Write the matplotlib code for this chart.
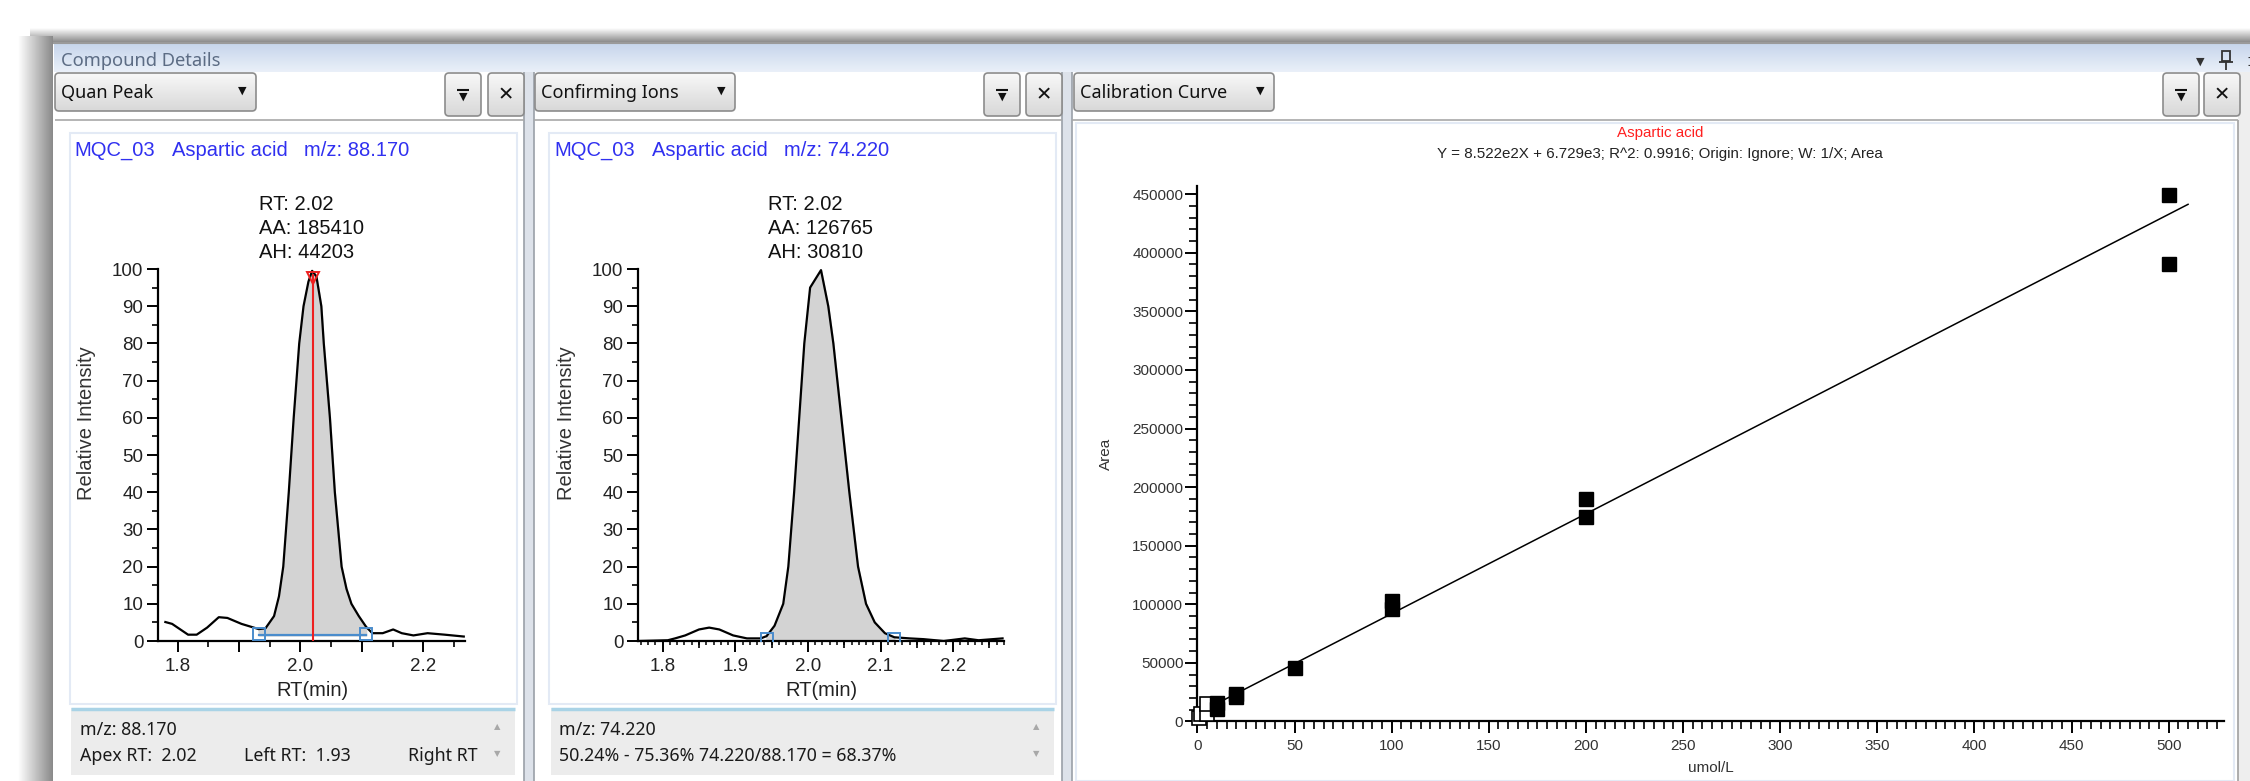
import numpy as np
import matplotlib
matplotlib.use("Agg")
import matplotlib.pyplot as plt
from matplotlib.patches import Rectangle, FancyBboxPatch
from matplotlib.colors import LinearSegmentedColormap
from matplotlib.ticker import MultipleLocator, FuncFormatter

plt.rcParams["font.family"] = ["Liberation Sans", "DejaVu Sans"]
UI = ["Noto Sans", "DejaVu Sans"]
W, H = 2250, 781

# ---------- data ----------
rt_quan = [1.780, 1.791, 1.817, 1.831, 1.848, 1.867, 1.881, 1.904, 1.932, 1.943, 1.957, 1.965, 1.972,
           1.981, 1.989, 1.998, 2.005, 2.013, 2.019, 2.026, 2.034, 2.038, 2.048, 2.056, 2.067, 2.075,
           2.083, 2.095, 2.107, 2.117, 2.134, 2.151, 2.165, 2.184, 2.207, 2.235, 2.266]
int_quan = [5.1, 4.6, 1.7, 1.7, 3.6, 6.4, 6.2, 4.6, 3.2, 3.4, 6.7, 12.0, 20.0, 40.0, 60.0, 80.0, 90.0,
            96.6, 99.5, 98.0, 90.0, 80.0, 60.0, 40.0, 20.0, 14.0, 10.0, 6.7, 3.8, 2.1, 2.1, 3.1, 2.1,
            1.5, 2.1, 1.7, 1.2]
rt_conf = [1.767, 1.807, 1.817, 1.831, 1.850, 1.864, 1.878, 1.897, 1.916, 1.935, 1.943, 1.954, 1.966,
           1.973, 1.981, 1.988, 1.995, 2.003, 2.018, 2.028, 2.035, 2.046, 2.057, 2.069, 2.080, 2.092,
           2.106, 2.119, 2.140, 2.159, 2.187, 2.216, 2.235, 2.268]
int_conf = [0.0, 0.2, 0.7, 1.5, 3.1, 3.6, 3.1, 1.5, 0.7, 0.7, 1.3, 4.1, 10.0, 20.0, 40.0, 60.0, 80.0,
            95.0, 99.7, 90.0, 80.0, 60.0, 40.0, 20.0, 10.0, 5.0, 2.1, 1.0, 0.7, 0.5, 0.0, 0.7, 0.2, 0.7]
quan_left, quan_right, quan_base, quan_apex = 1.932, 2.107, 1.5, 2.02
conf_left, conf_right = 1.943, 2.119

conc_used = [10, 10, 20, 20, 50, 100, 100, 200, 200, 500, 500]
area_used = [15700, 11000, 23700, 20800, 45300, 103000, 96100, 189600, 174500, 449000, 390000]
conc_excl = [1, 2, 5, 5]
area_excl = [3000, 6000, 6000, 15000]
slope, intercept = 852.2, 6729.0
fit_range = [0, 510]

# ---------- figure + pixel-space background ----------
fig = plt.figure(figsize=(22.5, 7.81), dpi=100)
bg = fig.add_axes([0, 0, 1, 1]); bg.axis("off")

def grad(x0, x1, y0, y1, c0, c1, horiz=False, clip=None, z=1):
    cm = LinearSegmentedColormap.from_list("g", [c0, c1])
    arr = np.linspace(0, 1, 64)[None, :] if horiz else np.linspace(0, 1, 64)[:, None]
    im = bg.imshow(arr, extent=(x0, x1, y1, y0), cmap=cm, aspect="auto", zorder=z, origin="upper")
    if clip is not None: im.set_clip_path(clip)
    return im

def rect(x0, y0, x1, y1, fc, ec="none", lw=1, z=1):
    bg.add_patch(Rectangle((x0, y0), x1 - x0, y1 - y0, fc=fc, ec=ec, lw=lw, zorder=z))

def hline(x0, x1, y, c, lw=1, z=3): bg.plot([x0, x1], [y, y], color=c, lw=lw, zorder=z, solid_capstyle="butt")
def vline(x, y0, y1, c, lw=1, z=3): bg.plot([x, x], [y0, y1], color=c, lw=lw, zorder=z, solid_capstyle="butt")

# window shadow + frame
grad(30, W, 28, 42, "#ffffff", "#8c8c8c", z=1)
grad(18, 53, 36, H, "#ffffff", "#8a8a8a", horiz=True, z=1)
rect(53, 42, W, H, "#ffffff", z=2)
hline(53, W, 42.5, "#9a9a9a", lw=1.5)
grad(54, W, 43, 72, "#c6d5eb", "#eaf0f9", z=2)
bg.text(61, 61, "Compound Details", family=UI, fontsize=13.2, color="#5c6c84", va="center", zorder=4)
# top-right window icons
bg.text(2200, 62, "▼", fontsize=8, color="#333333", ha="center", va="center", family=["DejaVu Sans"], zorder=4)
rect(2222, 51, 2230, 61, "none", ec="#333333", lw=1.3, z=4)
hline(2219, 2233, 61.5, "#333333", lw=1.3, z=4); vline(2226, 61, 70, "#333333", lw=1.3, z=4)
bg.text(2246, 62, ":", fontsize=12, color="#333333", ha="left", va="center", zorder=4)

def button(x0, y0, x1, y1):
    p = FancyBboxPatch((x0, y0), x1 - x0, y1 - y0, boxstyle="round,pad=0,rounding_size=4",
                       fc="none", ec="#8c8c8c", lw=1.2, zorder=5)
    bg.add_patch(p)
    grad(x0, x1, y0, y1, "#f8f8f8", "#d8d8d8", clip=p, z=4)

def dropdown(x0, x1, label):
    button(x0, 73, x1, 111)
    bg.text(x0 + 6, 93, label, family=UI, fontsize=13, color="#111111", va="center", zorder=6)
    bg.text(x1 - 14, 91, "▼", family=["DejaVu Sans"], fontsize=8, color="#111111", ha="center", va="center", zorder=6)

def tool_pair(xf, xx):
    button(xf, 73, xf + 36, 116); button(xx, 73, xx + 36, 116)
    xc = xf + 18
    hline(xc - 6, xc + 6, 90, "#111111", lw=1.5, z=6)
    bg.text(xc, 97, "▼", family=["DejaVu Sans"], fontsize=8, color="#111111", ha="center", va="center", zorder=6)
    bg.text(xx + 18, 95, "✕", family=["DejaVu Sans"], fontsize=14, fontweight="bold", color="#111111",
            ha="center", va="center", zorder=6)

dropdown(55, 256, "Quan Peak"); tool_pair(445, 488)
dropdown(535, 735, "Confirming Ions"); tool_pair(984, 1026)
dropdown(1074, 1274, "Calibration Curve"); tool_pair(2163, 2204)

# panel separators and borders
for xs in (524, 1062):
    rect(xs, 72, xs + 10, H, "#dde2ea", z=3)
    vline(xs, 72, H, "#9aa0a8", lw=1.2, z=3); vline(xs + 10, 72, H, "#9aa0a8", lw=1.2, z=3)
rect(2238, 72, W, H, "#eeeeee", z=3); vline(2238, 120, H, "#a0a0a0", lw=1.2, z=3)
for x0, x1 in ((55, 524), (534, 1062), (1072, 2238)):
    hline(x0, x1, 120, "#a8a8a8", lw=1.2)
for x0, y0, x1, y1 in ((70, 133, 517, 704), (549, 133, 1056, 704), (1076, 123, 2234, H)):
    rect(x0, y0, x1, y1, "none", ec="#e3eaf5", lw=1.5, z=3)

# headers of the two chromatograms
for x0, mz in ((74, "88.170"), (554, "74.220")):
    for dx, s in ((0, "MQC_03"), (98, "Aspartic acid"), (230, "m/z: " + mz)):
        bg.text(x0 + dx, 150, s, fontsize=14.5, color="#3030f0", va="center", zorder=4)

# info boxes under the chromatograms
for x0, x1 in ((71, 515), (551, 1054)):
    rect(x0, 708, x1, 775, "#ececec", z=3)
    hline(x0, x1, 709, "#a9d3e6", lw=2.5, z=4)
    bg.text(x1 - 18, 727, "▲", family=["DejaVu Sans"], fontsize=6, color="#a8a8a8", ha="center", va="center", zorder=5)
    bg.text(x1 - 18, 754, "▼", family=["DejaVu Sans"], fontsize=6, color="#a8a8a8", ha="center", va="center", zorder=5)
info = dict(family=UI, fontsize=12.8, color="#1a1a1a", va="center", zorder=5)
bg.text(80, 730, "m/z: 88.170", **info)
bg.text(80, 756, "Apex RT:  2.02", **info)
bg.text(244, 756, "Left RT:  1.93", **info)
bg.text(408, 756, "Right RT", **info)
bg.text(559, 730, "m/z: 74.220", **info)
bg.text(559, 756, "50.24% - 75.36% 74.220/88.170 = 68.37%", **info)

bg.set_xlim(0, W); bg.set_ylim(H, 0)

# ---------- chart axes ----------
def ax_at(l, t, r, b):
    a = fig.add_axes([l / W, 1 - b / H, (r - l) / W, (b - t) / H])
    a.set_facecolor("none")
    for s in ("top", "right"): a.spines[s].set_visible(False)
    for s in ("left", "bottom"): a.spines[s].set_linewidth(1.6)
    return a

def chrom(ax, rt, inten, xlim):
    ax.set_xlim(*xlim); ax.set_ylim(0, 100)
    ax.yaxis.set_major_locator(MultipleLocator(10)); ax.yaxis.set_minor_locator(MultipleLocator(5))
    ax.tick_params(which="major", length=8, width=1.4, labelsize=13.5, labelcolor="#222222")
    ax.tick_params(which="minor", length=4, width=1.2)
    ax.tick_params(axis="y", pad=2.5); ax.tick_params(axis="x", pad=4)
    ax.plot(rt, inten, color="black", lw=1.6, zorder=4)

rt_q = np.array(rt_quan); in_q = np.array(int_quan)
ax1 = ax_at(158, 269, 465, 641)
chrom(ax1, rt_quan, int_quan, (1.768, 2.268))
ax1.xaxis.set_major_locator(MultipleLocator(0.1)); ax1.xaxis.set_minor_locator(MultipleLocator(0.05))
ax1.xaxis.set_major_formatter(FuncFormatter(lambda v, p: f"{v:.1f}" if round(v * 10) % 2 == 0 else ""))
m = (rt_q >= quan_left) & (rt_q <= quan_right)
ax1.fill_between(rt_q[m], in_q[m], quan_base, color="#d3d3d3", zorder=2)
ax1.plot([quan_left, quan_right], [quan_base, quan_base], color="#4a8ccc", lw=1.6, zorder=5)
ax1.plot([quan_left, quan_right], [quan_base + 0.5, quan_base + 0.5], ls="none", marker="s", ms=8.5,
         mfc="none", mec="#4a8ccc", mew=1.4, zorder=5)
ax1.plot([quan_apex, quan_apex], [0, 98.5], color="#ee2020", lw=1.5, zorder=5)
ax1.plot([quan_apex], [97.5], marker="v", ms=9, mfc="none", mec="#ee2020", mew=1.4, zorder=6)

rt_c = np.array(rt_conf); in_c = np.array(int_conf)
ax2 = ax_at(638, 269, 1004, 641)
chrom(ax2, rt_conf, int_conf, (1.766, 2.27))
ax2.xaxis.set_major_locator(MultipleLocator(0.1)); ax2.xaxis.set_minor_locator(MultipleLocator(0.01))
ax2.xaxis.set_major_formatter(FuncFormatter(lambda v, p: f"{v:.1f}"))
ax2.tick_params(axis="x", which="minor", length=2.8, width=1.1)
sec = ax2.secondary_xaxis("bottom")
sec.set_xticks([1.85, 1.95, 2.05, 2.15, 2.25]); sec.set_xticklabels([])
sec.tick_params(length=5, width=1.2); sec.spines["bottom"].set_visible(False)
m = (rt_c >= conf_left) & (rt_c <= conf_right)
ax2.fill_between(rt_c[m], in_c[m], 0, color="#d3d3d3", zorder=2)
ax2.plot([conf_left, conf_right], [0.6, 0.6], ls="none", marker="s", ms=8.5, mfc="none",
         mec="#4a8ccc", mew=1.4, zorder=5)

for ax, xc, (cx, cy), txt in ((ax1, 259, (312, 691), ("2.02", "185410", "44203")),
                              (ax2, 768, (821, 691), ("2.02", "126765", "30810"))):
    for k, (lab, val) in enumerate(zip(("RT: ", "AA: ", "AH: "), txt)):
        bg.text(xc, 205 + 24 * k, lab + val, fontsize=14.5, color="#111111", va="center", zorder=6)
    bg.text(cx, cy, "RT(min)", fontsize=14.5, color="#222222", ha="center", va="center")
bg.text(86, 423, "Relative Intensity", fontsize=14.5, color="#333333", rotation=90, ha="center", va="center")
bg.text(566, 423, "Relative Intensity", fontsize=14.5, color="#333333", rotation=90, ha="center", va="center")

# ---------- calibration curve ----------
ax3 = ax_at(1197.4, 186, 2224, 721.4)
ax3.set_xlim(0, 528.5); ax3.set_ylim(0, 457000)
ax3.xaxis.set_major_locator(MultipleLocator(50)); ax3.xaxis.set_minor_locator(MultipleLocator(5))
ax3.yaxis.set_major_locator(MultipleLocator(50000)); ax3.yaxis.set_minor_locator(MultipleLocator(10000))
ax3.tick_params(which="major", length=8.6, width=1.4, labelsize=11, labelcolor="#333333")
ax3.tick_params(which="minor", length=5.8, width=1.2)
ax3.tick_params(axis="y", pad=1.5); ax3.tick_params(axis="x", pad=4)
fx = np.array(fit_range)
ax3.plot(fx, slope * fx + intercept, color="black", lw=1.1, zorder=3)
ax3.plot(conc_excl, area_excl, ls="none", marker="s", ms=9.5, mfc="white", mec="black", mew=1.2,
         zorder=4, clip_on=False)
ax3.plot(conc_used, area_used, ls="none", marker="s", ms=9.5, mfc="black", mec="black", zorder=5,
         clip_on=False)
bg.text(1660, 133, "Aspartic acid", fontsize=10.9, color="#ff2020", ha="center", va="center", zorder=5)
bg.text(1660, 154, "Y = 8.522e2X + 6.729e3; R^2: 0.9916; Origin: Ignore; W: 1/X; Area",
        fontsize=10.9, color="#222222", ha="center", va="center", zorder=5)
bg.text(1106, 454, "Area", fontsize=11, color="#333333", rotation=90, ha="center", va="center")
bg.text(1711, 768, "umol/L", fontsize=11, color="#333333", ha="center", va="center")

fig.savefig("out.png", dpi=100)
